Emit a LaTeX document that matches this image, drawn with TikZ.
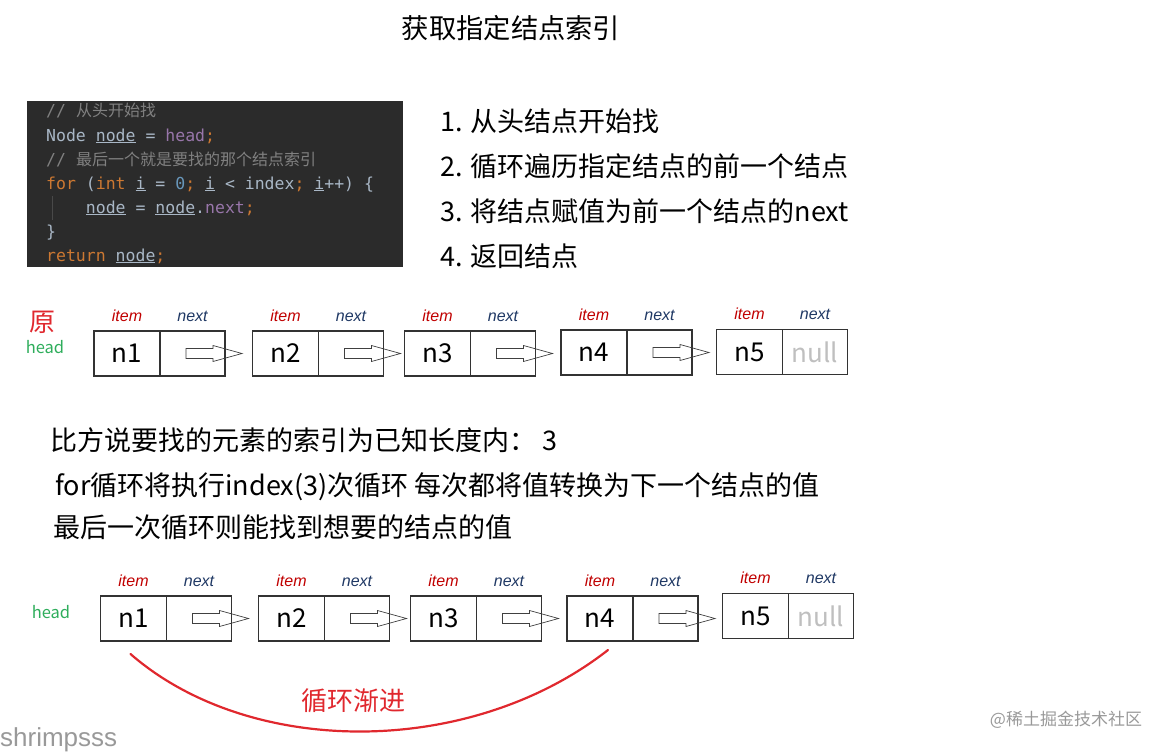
\documentclass[tikz,border=0pt]{standalone}
\usepackage{fontspec}
\setmainfont{Noto Sans CJK SC}
\setmonofont{DejaVu Sans Mono}
\newfontfamily\arialf{Liberation Sans}
\usetikzlibrary{positioning}
\definecolor{codebg}{HTML}{2B2B2B}
\definecolor{codefg}{HTML}{A9B7C6}
\definecolor{codekw}{HTML}{CC7832}
\definecolor{codenum}{HTML}{6897BB}
\definecolor{codefld}{HTML}{9876AA}
\definecolor{codecmt}{HTML}{808080}
\definecolor{itemred}{HTML}{C00000}
\definecolor{nextblue}{HTML}{1F3864}
\definecolor{headgreen}{HTML}{2EAD5B}
\definecolor{loopred}{HTML}{E0282E}
\definecolor{boxline}{HTML}{333333}
\newcommand\kw[1]{\textcolor{codekw}{#1}}
\newcommand\fld[1]{\textcolor{codefld}{#1}}
\newcommand\num[1]{\textcolor{codenum}{#1}}
\newcommand\uvar[1]{\underline{#1}}
\newcommand\cmt[1]{\textcolor{codecmt}{// {\rmfamily\fontsize{16}{20}\selectfont #1}}}
\tikzset{ptr/.pic={\draw[line width=0.7pt, draw=black!75] (0,-5) -- (27,-5) -- (27,-8) -- (56,0) -- (27,8) -- (27,5) -- (0,5) -- cycle;}}
\begin{document}
\begin{tikzpicture}[x=1pt, y=-1pt,
  title/.style={font=\fontsize{27.3}{32}\selectfont},
  listtxt/.style={anchor=west, inner sep=0pt, font=\fontsize{27}{32}\selectfont},
  code/.style={anchor=base west, inner sep=0pt, text=codefg, font=\ttfamily\fontsize{16.5}{20}\selectfont},
  item/.style={draw=boxline, line width=1.3pt, outer sep=0pt, minimum width=66pt, minimum height=45pt,
    inner sep=0pt, font=\fontsize{26}{30}\selectfont},
  nextp/.style={item, minimum width=65pt},
  itemlbl/.style={label distance=6pt, text=itemred, font=\arialf\itshape\fontsize{16}{18}\selectfont},
  nextlbl/.style={label distance=6pt, text=nextblue, font=\arialf\itshape\fontsize{16}{18}\selectfont},
  headlbl/.style={text=headgreen, font=\fontsize{16.5}{20}\selectfont},
  loopline/.style={draw=loopred, line width=2.2pt, line cap=round},
  wmark/.style={text=black!40, inner sep=0pt}]
  \useasboundingbox (0,0) rectangle (1168,752);
  \node[title] (ttl) at (511,28) {获取指定结点索引};
  % code
  \fill[codebg] (27,101) rectangle (403,267);
  \begin{scope}
    \clip (27,101) rectangle (403,267);
    \draw[codecmt!35!codebg, line width=0.8pt] (52,196) -- (52,220);
    \node[code] (c1) at (46,117) {\cmt{从头开始找}};
    \node[code] (c2) at (46,141) {Node \uvar{node} = \fld{head}\kw{;}};
    \node[code] (c3) at (46,165) {\cmt{最后一个就是要找的那个结点索引}};
    \node[code] (c4) at (46,189) {\kw{for} (\kw{int} \uvar{i} = \num{0}\kw{;} \uvar{i} < index\kw{;} \uvar{i}++) \{};
    \node[code] (c5) at (46,213) {\hphantom{0000}\uvar{node} = \uvar{node}.\fld{next}\kw{;}};
    \node[code] (c6) at (46,237) {\}};
    \node[code] (c7) at (46,261) {\kw{return} \uvar{node}\kw{;}};
  \end{scope}
  \node[listtxt] (l1) at (440,121) {1. 从头结点开始找};
  \node[listtxt] (l2) at (440,166) {2. 循环遍历指定结点的前一个结点};
  \node[listtxt] (l3) at (440,211) {3. 将结点赋值为前一个结点的next};
  \node[listtxt] (l4) at (440,256) {4. 返回结点};
  % original list
  \node[text=loopred, font=\fontsize{26}{30}\selectfont] (yuan) at (43,322) {原};
  \node[headlbl] (h1) at (45,347) {head};
  \foreach \i/\x/\y in {1/127/353.5, 2/285.5/353.5, 3/437.5/353.5, 4/594/352.5} {
    \node[item, label={[itemlbl]above:item}] (a\i) at (\x,\y) {n\i};
    \node[nextp, right=0pt of a\i, label={[nextlbl]above:next}] (p\i) {};
    \path (p\i.west) ++(26,0) pic {ptr};
  }
  \node[item, label={[itemlbl]above:item}] (a5) at (749.5,352) {n5};
  \node[nextp, right=0pt of a5, text=black!25, label={[nextlbl]above:next}] (p5) {null};
  % text
  \node[listtxt] (t1) at (50,440) {比方说要找的元素的索引为已知长度内： 3};
  \node[listtxt] (t2) at (55,487) {for循环将执行index(3)次循环 每次都将值转换为下一个结点的值};
  \node[listtxt] (t3) at (53,527) {最后一次循环则能找到想要的结点的值};
  % loop list
  \node[headlbl] (h2) at (51,612) {head};
  \foreach \i/\x/\y in {1/133.5/618.5, 2/291.5/618.5, 3/443.5/618.5, 4/600/618.5} {
    \node[item, label={[itemlbl]above:item}] (b\i) at (\x,\y) {n\i};
    \node[nextp, right=0pt of b\i, label={[nextlbl]above:next}] (q\i) {};
    \path (q\i.west) ++(26,0) pic {ptr};
  }
  \node[item, label={[itemlbl]above:item}] (b5) at (755.5,616) {n5};
  \node[nextp, right=0pt of b5, text=black!25, label={[nextlbl]above:next}] (q5) {null};
  \path (b1.south) ++(-3,13) coordinate (s1);
  \path (b4.south) ++(8,9) coordinate (s4);
  \draw[loopline] (s1) .. controls (250,758) and (470,758) .. (s4);
  \node[text=loopred, font=\fontsize{26}{30}\selectfont] (jj) at (353,701) {循环渐进};
  \node[wmark, anchor=west, font=\arialf\fontsize{26}{30}\selectfont] (wm1) at (0,740) {shrimpsss};
  \node[wmark, font=\fontsize{17}{20}\selectfont] (wm2) at (1066,720) {@稀土掘金技术社区};
\end{tikzpicture}
\end{document}
